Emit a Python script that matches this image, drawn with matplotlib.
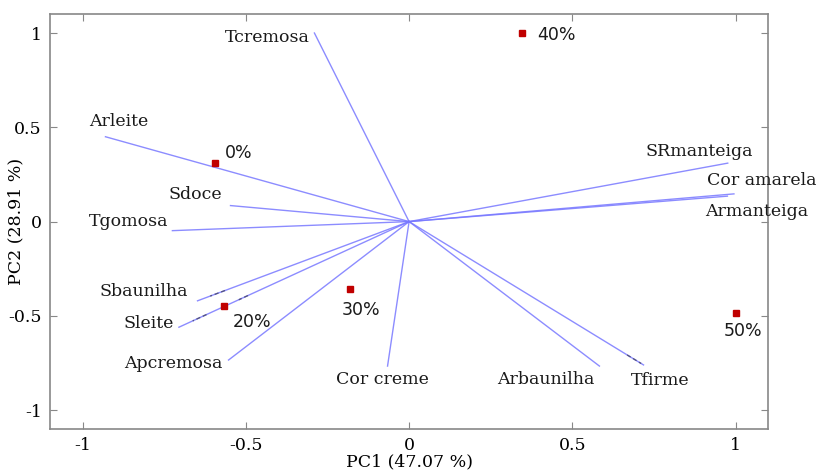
import matplotlib.pyplot as plt

plt.rcParams["axes.unicode_minus"] = False

# Variable loadings (PC1, PC2)
variables = ["Tcremosa", "Arleite", "Sdoce", "Tgomosa", "Sbaunilha", "Sleite",
             "Apcremosa", "Cor creme", "Arbaunilha", "Tfirme", "SRmanteiga",
             "Cor amarela", "Armanteiga"]
load_pc1 = [-0.29, -0.93, -0.547, -0.725, -0.648, -0.705,
            -0.553, -0.066, 0.583, 0.718, 0.976, 0.995, 0.975]
load_pc2 = [1.0, 0.45, 0.085, -0.048, -0.42, -0.56,
            -0.734, -0.766, -0.766, -0.76, 0.31, 0.147, 0.135]

# Sample scores (PC1, PC2)
samples = ["40%", "0%", "20%", "30%", "50%"]
score_pc1 = [0.347, -0.595, -0.567, -0.182, 1.0]
score_pc2 = [1.0, 0.31, -0.45, -0.36, -0.485]

tick_vals = [-1, -0.5, 0, 0.5, 1]
tick_text = ["-1", "-0.5", "0", "0.5", "1"]

# label placement: (dx, dy) in pixels, horizontal alignment
var_offsets = {
    "Tcremosa": (-5, -4, "right"), "Arleite": (-16, 15, "left"),
    "Sdoce": (-8, 11, "right"), "Tgomosa": (-4, 9, "right"),
    "Sbaunilha": (-10, 9, "right"), "Sleite": (-5, 4, "right"),
    "Apcremosa": (-6, -3, "right"), "Cor creme": (-5, -13, "center"),
    "Arbaunilha": (-5, -13, "right"), "Tfirme": (-13, -16, "left"),
    "SRmanteiga": (25, 12, "right"), "Cor amarela": (-27, 13, "left"),
    "Armanteiga": (-22, -15, "left"),
}
sample_offsets = {
    "40%": (15, -2), "0%": (10, 10), "20%": (9, -16),
    "30%": (-8, -21), "50%": (-12, -18),
}

# leftover arrow-head ticks along some vectors (start/end fraction of length)
head_marks = {
    "Sbaunilha": [(0.87, 0.94)],
    "Sleite": [(0.70, 0.74), (0.88, 0.94)],
    "Tfirme": [(0.93, 0.99)],
}

serif = "DejaVu Serif"
fs = 12.5
fig = plt.figure(figsize=(8.19, 4.72), dpi=100)
ax = fig.add_axes([0.061, 0.091, 0.877, 0.879])

for name, x, y in zip(variables, load_pc1, load_pc2):
    ax.plot([0, x], [0, y], color="#7878ff", lw=1.0, alpha=0.85)
    for f0, f1 in head_marks.get(name, []):
        ax.plot([x * f0, x * f1], [y * f0, y * f1], color="#444466", lw=1.0,
                ls=(0, (3, 2)), alpha=0.8)
    dx, dy, ha = var_offsets[name]
    ax.annotate(name, (x, y), xytext=(dx, dy), textcoords="offset pixels",
                ha=ha, va="center", fontsize=fs, family=serif, color="#1a1a1a")

ax.plot(score_pc1, score_pc2, "s", color="#c00000", markersize=4, ls="none")
for name, x, y in zip(samples, score_pc1, score_pc2):
    dx, dy = sample_offsets[name]
    ax.annotate(name, (x, y), xytext=(dx, dy), textcoords="offset pixels",
                ha="left", va="center", fontsize=fs, family="DejaVu Sans",
                color="#1a1a1a")

ax.set_xlim(-1.1, 1.1)
ax.set_ylim(-1.1, 1.1)
ax.set_xticks(tick_vals)
ax.set_xticklabels(tick_text, family=serif, fontsize=fs)
ax.set_yticks(tick_vals)
ax.set_yticklabels(tick_text, family=serif, fontsize=fs)
ax.tick_params(direction="in", length=5, color="#888888", top=True, right=True,
               pad=6)
for s in ax.spines.values():
    s.set_color("#888888")
    s.set_linewidth(1.2)

ax.set_xlabel("PC1 (47.07 %)", family=serif, fontsize=fs, labelpad=-1)
ax.set_ylabel("PC2 (28.91 %)", family=serif, fontsize=fs)
ax.yaxis.set_label_coords(-0.036, 0.5)

fig.savefig("out.png", dpi=100)
